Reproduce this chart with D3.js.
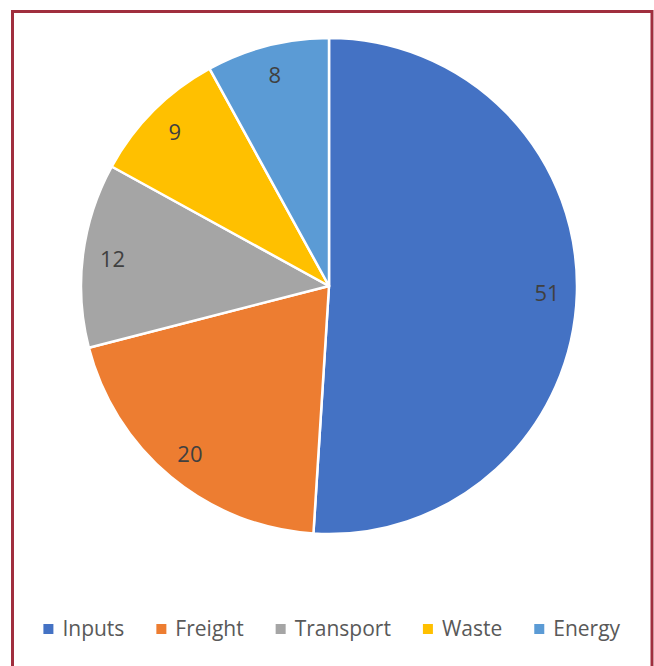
<!DOCTYPE html>
<html>
<head>
<meta charset="utf-8">
<script src="https://cdn.jsdelivr.net/npm/d3@7"></script>
<style>
  body { margin: 0; background: #fff; }
  svg { display: block; }
</style>
</head>
<body>
<script>
// Width and Height
const w = 654;
const h = 666;

// Chart data
const categories = ["Inputs", "Freight", "Transport", "Waste", "Energy"];
const values = [51, 20, 12, 9, 8];
const colors = ["#4472C4", "#ED7D31", "#A5A5A5", "#FFC000", "#5B9BD5"];

// Pie geometry
const cx = 329;
const cy = 286;
const r = 248;

// Create SVG
const svg = d3.select("body")
                .append("svg")
                .attr("width", w)
                .attr("height", h);

// dark red frame (bottom edge runs off the page)
svg.append("rect")
    .attr("x", 12.5)
    .attr("y", 11.5)
    .attr("width", 639.5)
    .attr("height", 700)
    .attr("fill", "none")
    .attr("stroke", "#a02e3e")
    .attr("stroke-width", 3);

const color = d3.scaleOrdinal()
                .domain(categories)
                .range(colors);

const pie = d3.pie()
                .sort(null)
                .value(d => d.value);

const data = categories.map((c, i) => ({ name: c, value: values[i] }));
const arcs = pie(data);

const arc = d3.arc()
                .innerRadius(0)
                .outerRadius(r);

const labelArc = d3.arc()
                .innerRadius(r * 0.88)
                .outerRadius(r * 0.88);

const g = svg.append("g")
                .attr("transform", `translate(${cx},${cy})`);

// slices
g.selectAll("path")
    .data(arcs)
    .enter()
    .append("path")
    .attr("d", arc)
    .attr("fill", d => color(d.data.name))
    .attr("stroke", "#fff")
    .attr("stroke-width", 2.5)
    .attr("stroke-linejoin", "round");

// value labels
g.selectAll("text.lbl")
    .data(arcs)
    .enter()
    .append("text")
    .attr("class", "lbl")
    .attr("x", d => labelArc.centroid(d)[0])
    .attr("y", d => labelArc.centroid(d)[1])
    .attr("dy", "0.36em")
    .attr("text-anchor", "middle")
    .style("font-family", "'Open Sans', sans-serif")
    .style("font-size", "22px")
    .style("fill", "#404040")
    .text(d => d.data.value);

// legend - measure items then center them
const legend = svg.append("g");
const markerSize = 10;
const markerGap = 9;
const itemGap = 32;
const legendY = 636;

const items = legend.selectAll("g")
    .data(categories)
    .enter()
    .append("g");

items.append("rect")
    .attr("width", markerSize)
    .attr("height", markerSize)
    .attr("y", legendY - 12)
    .attr("fill", d => color(d));

items.append("text")
    .attr("x", markerSize + markerGap)
    .attr("y", legendY)
    .style("font-family", "'Open Sans', sans-serif")
    .style("font-size", "21px")
    .style("fill", "#595959")
    .text(d => d);

let widths = [];
items.each(function() {
    widths.push(this.getBBox().width);
});
const total = d3.sum(widths) + itemGap * (widths.length - 1);
let xpos = 332 - total / 2;
items.attr("transform", (d, i) => {
    const t = `translate(${xpos},0)`;
    xpos += widths[i] + itemGap;
    return t;
});
</script>
</body>
</html>
